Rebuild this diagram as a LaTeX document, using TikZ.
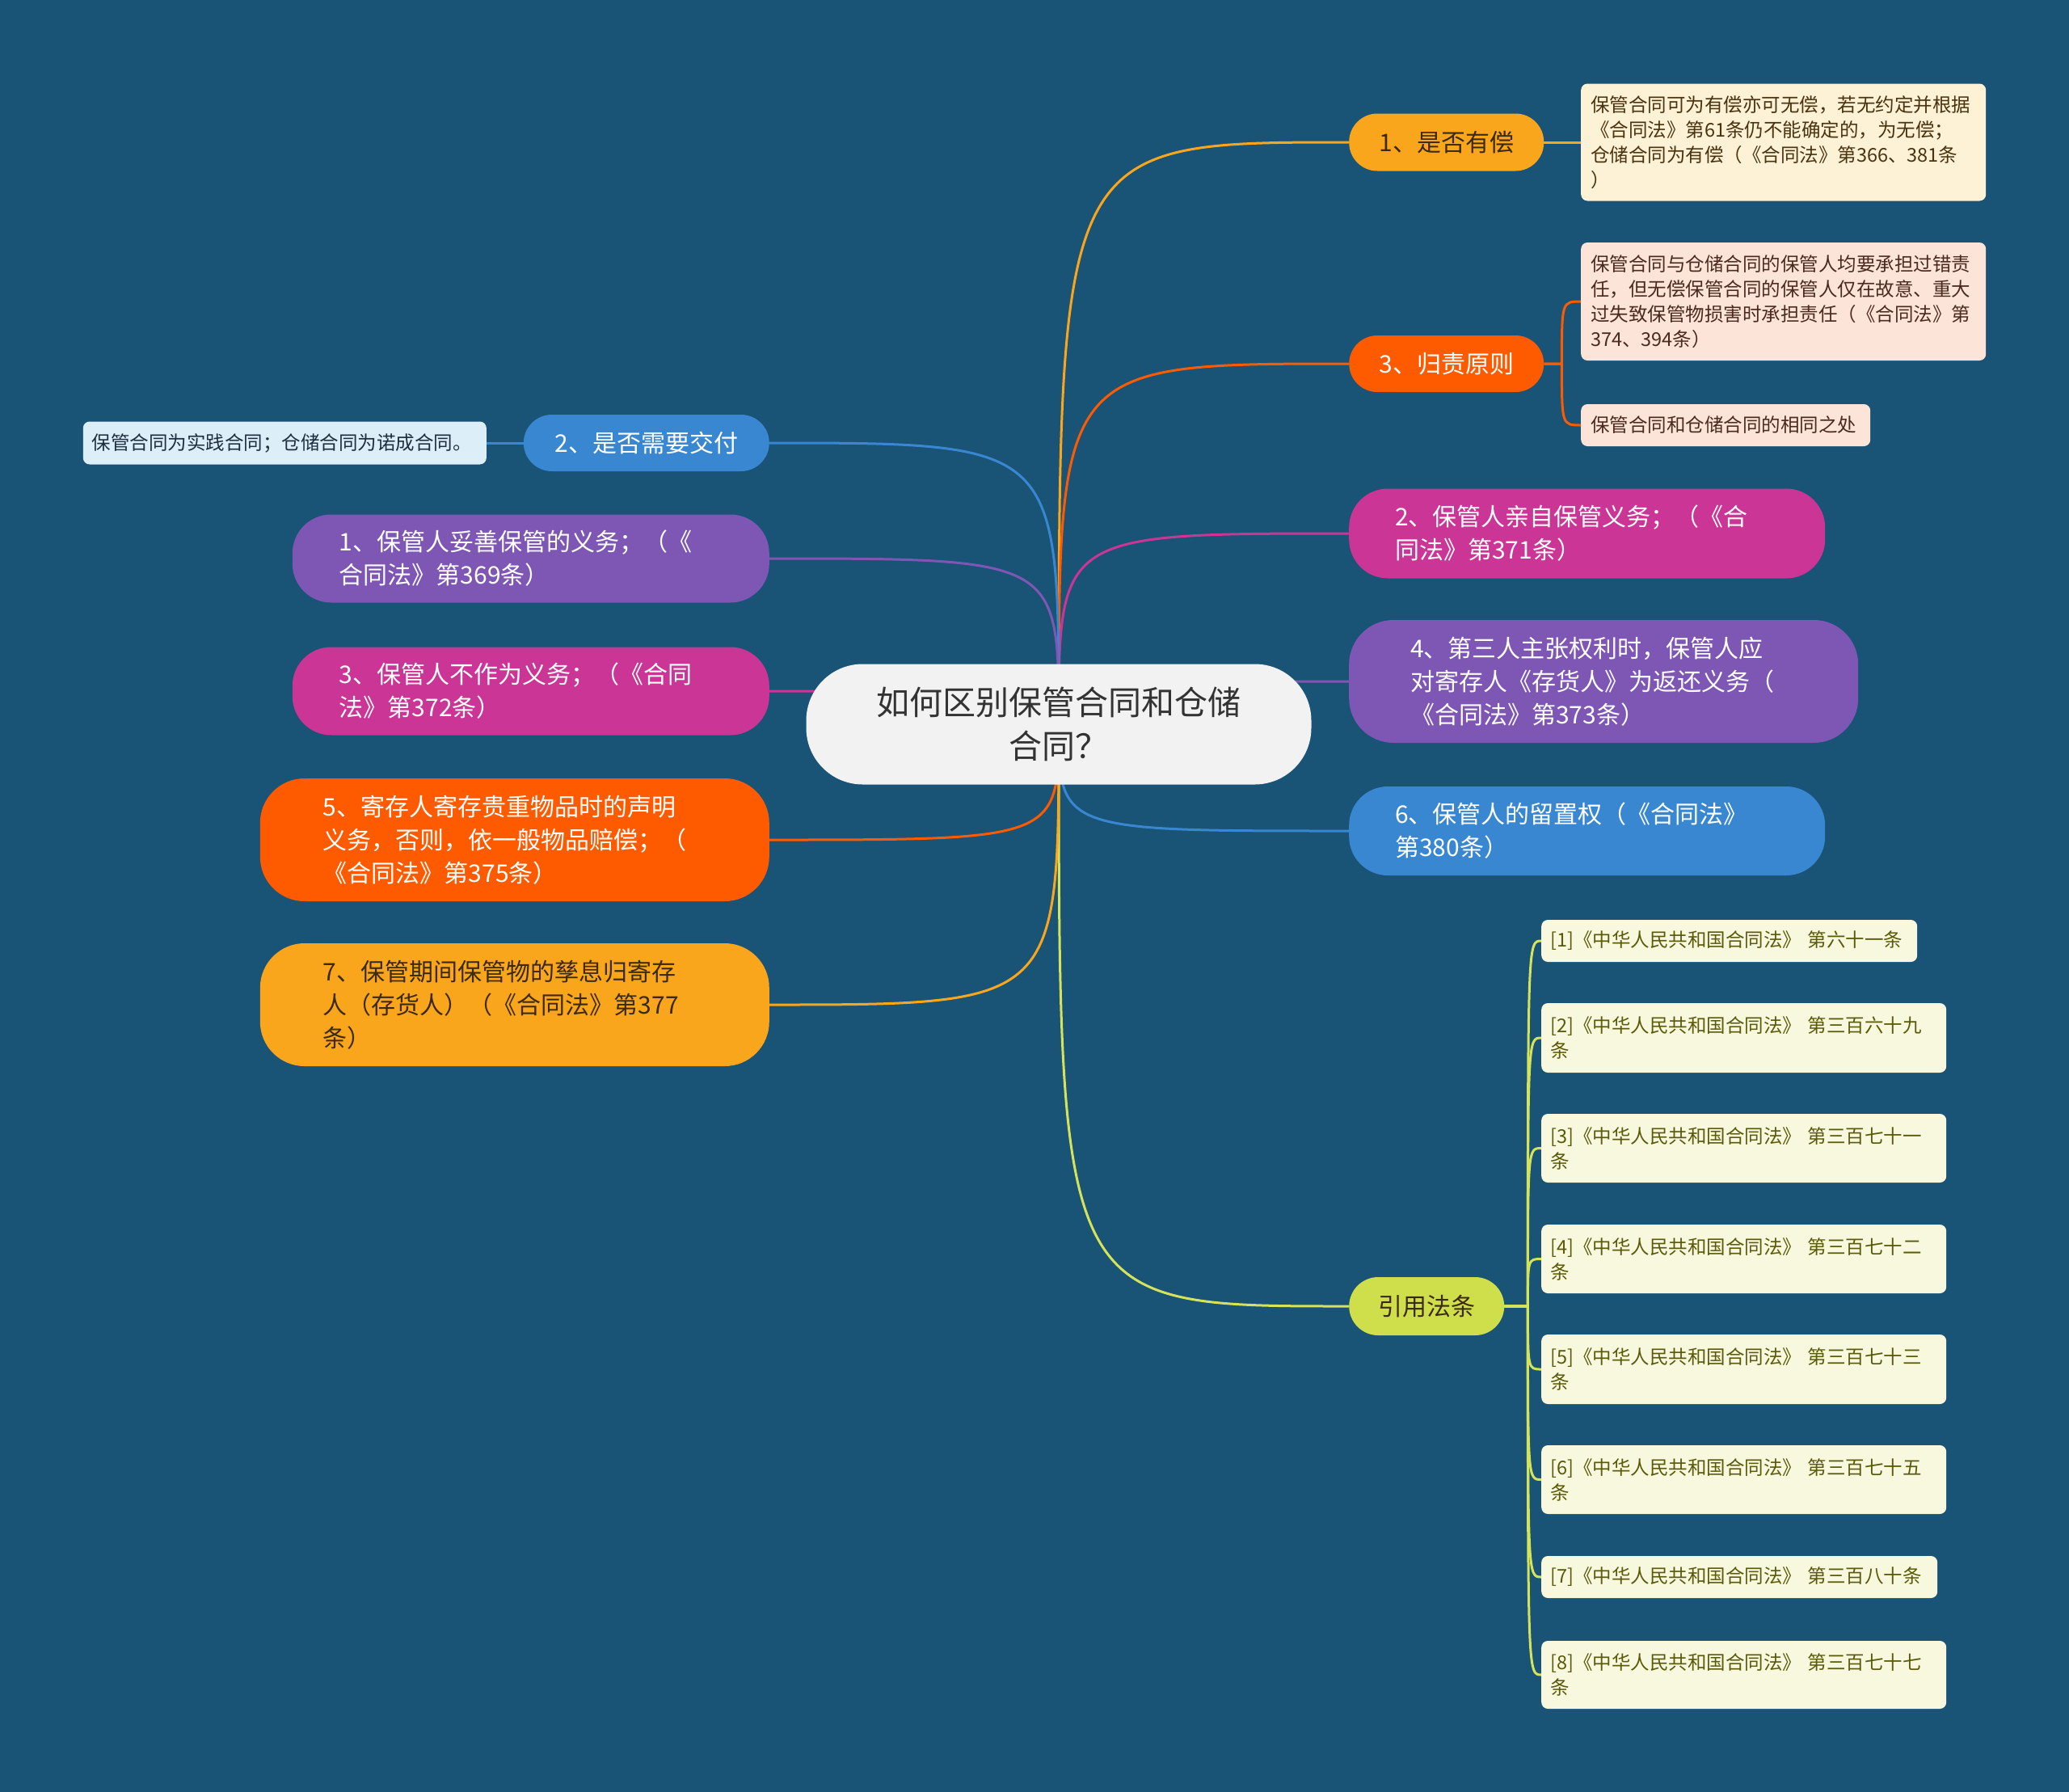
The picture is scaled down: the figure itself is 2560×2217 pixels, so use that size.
\documentclass[tikz,border=0pt]{standalone}
\usepackage{fontspec}
\setmainfont{Noto Sans CJK SC}
\pgfdeclarelayer{bg}
\pgfsetlayers{bg,main}
\definecolor{bgc}{RGB}{25,83,118}
\definecolor{corange}{HTML}{F9A61C}
\definecolor{cred}{HTML}{FE5B00}
\definecolor{cmag}{HTML}{CB3596}
\definecolor{cpur}{HTML}{7E57B5}
\definecolor{cblue}{HTML}{3A87D1}
\definecolor{cyg}{HTML}{CFDE4B}
\definecolor{cygl}{HTML}{D4E35A}
\definecolor{ccen}{HTML}{F2F2F2}
\definecolor{darkt}{HTML}{3B2A10}
\definecolor{n1fill}{HTML}{FDF1D6}
\definecolor{n2fill}{HTML}{FDE4D8}
\definecolor{lnfill}{HTML}{DCEEF8}
\definecolor{reffill}{HTML}{F8F8DE}
\definecolor{n1text}{HTML}{4A3410}
\definecolor{n2text}{HTML}{4A2A1E}
\definecolor{lntext}{HTML}{1E2E3E}
\definecolor{reftext}{HTML}{5A5A0A}
\newcommand\brfont{\fontsize{30}{41}\selectfont}
\newcommand\ctfont{\fontsize{41}{54}\selectfont}
\newcommand\ntfont{\fontsize{23.5}{31}\selectfont}
\begin{document}
\begin{tikzpicture}[x=1pt,y=-1pt,
  pillbox/.style={rectangle, inner ysep=0pt, font=\brfont},
  notebox/.style={rectangle, rounded corners=8, inner ysep=0pt, inner xsep=12, align=left, font=\ntfont},
  refbox/.style={notebox, fill=reffill, text=reftext, inner xsep=11, anchor=west},
  conn/.style={line width=3pt}
]
\useasboundingbox (0,0) rectangle (2560,2217);
% center
\node[pillbox, fill=ccen, text=black!80, font=\ctfont, align=center, minimum width=625, minimum height=149, rounded corners=70] (c) at (1310,896) {如何区别保管合同和仓储\\合同？};
% right side
\node[pillbox, fill=corange, text=darkt, minimum width=241, minimum height=71, rounded corners=35, anchor=west] (r1) at (1669,176) {1、是否有偿};
\node[notebox, fill=n1fill, text=n1text, text width=477, minimum height=145, anchor=west] (n1) at (1956,176) {保管合同可为有偿亦可无偿，若无约定并根据\\《合同法》第61条仍不能确定的，为无偿；\\仓储合同为有偿（《合同法》第366、381条\\）};
\node[pillbox, fill=cred, text=white, minimum width=241, minimum height=70, rounded corners=35, anchor=west] (r3) at (1669,450) {3、归责原则};
\node[notebox, fill=n2fill, text=n2text, text width=477, minimum height=146, anchor=west] (n2) at (1956,373) {保管合同与仓储合同的保管人均要承担过错责\\任，但无偿保管合同的保管人仅在故意、重大\\过失致保管物损害时承担责任（《合同法》第\\374、394条）};
\node[notebox, fill=n2fill, text=n2text, text width=334, minimum height=52, anchor=west] (n3) at (1956,526) {保管合同和仓储合同的相同之处};
\node[pillbox, fill=cmag, text=white, text width=475, inner xsep=57, align=left, minimum height=111, rounded corners=48, anchor=west] (r2) at (1669,660) {2、保管人亲自保管义务；（《合\\同法》第371条）};
\node[pillbox, fill=cpur, text=white, text width=478, inner xsep=76, align=left, minimum height=152, rounded corners=55, anchor=west] (r4) at (1669,843) {4、第三人主张权利时，保管人应\\对寄存人《存货人》为返还义务（\\《合同法》第373条）};
\node[pillbox, fill=cblue, text=white, text width=475, inner xsep=57, align=left, minimum height=110, rounded corners=48, anchor=west] (r6) at (1669,1028) {6、保管人的留置权（《合同法》\\第380条）};
\node[pillbox, fill=cyg, text=darkt, minimum width=192, minimum height=72, rounded corners=36, anchor=west] (refs) at (1669,1616) {引用法条};
% references
\node[refbox, text width=443, minimum height=52] (f1) at (1907,1164) {[1]《中华人民共和国合同法》 第六十一条};
\node[refbox, text width=479, minimum height=86] (f2) at (1907,1284) {[2]《中华人民共和国合同法》 第三百六十九\\条};
\node[refbox, text width=479, minimum height=85] (f3) at (1907,1420.5) {[3]《中华人民共和国合同法》 第三百七十一\\条};
\node[refbox, text width=479, minimum height=85] (f4) at (1907,1557.5) {[4]《中华人民共和国合同法》 第三百七十二\\条};
\node[refbox, text width=479, minimum height=86] (f5) at (1907,1694) {[5]《中华人民共和国合同法》 第三百七十三\\条};
\node[refbox, text width=479, minimum height=85] (f6) at (1907,1830.5) {[6]《中华人民共和国合同法》 第三百七十五\\条};
\node[refbox, text width=468, minimum height=52] (f7) at (1907,1951) {[7]《中华人民共和国合同法》 第三百八十条};
\node[refbox, text width=479, minimum height=84] (f8) at (1907,2072) {[8]《中华人民共和国合同法》 第三百七十七\\条};
% left side
\node[pillbox, fill=cblue, text=white, minimum width=304, minimum height=70, rounded corners=35, anchor=east] (l2) at (952,548) {2、是否需要交付};
\node[notebox, fill=lnfill, text=lntext, text width=477, inner xsep=11, minimum height=53, anchor=east] (ln) at (602,548) {保管合同为实践合同；仓储合同为诺成合同。};
\node[pillbox, fill=cpur, text=white, text width=474, inner xsep=58, align=left, minimum height=109, rounded corners=48, anchor=east] (l1) at (952,691) {1、保管人妥善保管的义务；（《\\合同法》第369条）};
\node[pillbox, fill=cmag, text=white, text width=474, inner xsep=58, align=left, minimum height=109, rounded corners=48, anchor=east] (l3) at (952,855) {3、保管人不作为义务；（《合同\\法》第372条）};
\node[pillbox, fill=cred, text=white, text width=474, inner xsep=78, align=left, minimum height=152, rounded corners=55, anchor=east] (l5) at (952,1039) {5、寄存人寄存贵重物品时的声明\\义务，否则，依一般物品赔偿；（\\《合同法》第375条）};
\node[pillbox, fill=corange, text=darkt, text width=474, inner xsep=78, align=left, minimum height=152, rounded corners=55, anchor=east] (l7) at (952,1243) {7、保管期间保管物的孳息归寄存\\人（存货人）（《合同法》第377\\条）};
% junctions
\coordinate (r3j) at ([xshift=22]r3.east);
\coordinate (rj) at ([xshift=29]refs.east);
\begin{pgfonlayer}{bg}
\fill[bgc] (0,0) rectangle (2560,2217);
\draw[conn, corange] (c.center) .. controls (c.center |- r1.west) .. (r1.west);
\draw[conn, cred] (c.center) .. controls (c.center |- r3.west) .. (r3.west);
\draw[conn, cmag] (c.center) .. controls (c.center |- r2.west) .. (r2.west);
\draw[conn, cpur] (c.center) .. controls (c.center |- r4.west) .. (r4.west);
\draw[conn, cblue] (c.center) .. controls (c.center |- r6.west) .. (r6.west);
\draw[conn, cygl] (c.center) .. controls (c.center |- refs.west) .. (refs.west);
\draw[conn, cblue] (c.center) .. controls (c.center |- l2.east) .. (l2.east);
\draw[conn, cpur] (c.center) .. controls (c.center |- l1.east) .. (l1.east);
\draw[conn, cmag] (c.center) .. controls (c.center |- l3.east) .. (l3.east);
\draw[conn, cred] (c.center) .. controls (c.center |- l5.east) .. (l5.east);
\draw[conn, corange] (c.center) .. controls (c.center |- l7.east) .. (l7.east);
\draw[conn, corange] (r1.east) -- (n1.west);
\draw[conn, cred] (r3.east) -- (r3j) .. controls (r3j |- n2.west) .. (n2.west);
\draw[conn, cred] (r3.east) -- (r3j) .. controls (r3j |- n3.west) .. (n3.west);
\draw[conn, cblue] (l2.west) -- (ln.east);
\foreach \f in {f1,f2,f3,f4,f5,f6,f7,f8}{
  \draw[conn, cygl] (refs.east) -- (rj) .. controls (rj |- \f.west) .. (\f.west);
}
\end{pgfonlayer}
\end{tikzpicture}
\end{document}
